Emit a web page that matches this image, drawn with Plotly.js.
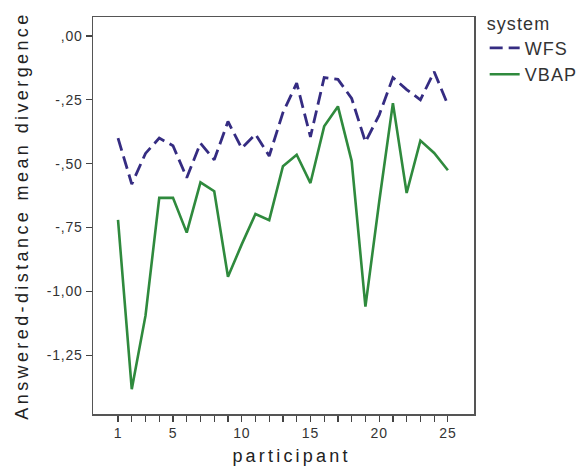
<!DOCTYPE html>
<html>
<head>
<meta charset="utf-8">
<script src="https://cdn.plot.ly/plotly-3.0.1.min.js"></script>
<style>
  html, body { margin: 0; padding: 0; background: #fff; }
  #chart { width: 587px; height: 466px; }
  .ytick text, .xtick text { letter-spacing: 0.8px; }
  .g-ytitle text { letter-spacing: 3.4px; }
  .g-xtitle text { letter-spacing: 3.2px; }
  .g-xtitle { transform: translate(8px, 0px); }
  .legendtext, .legendtitletext { letter-spacing: 1.1px; }
</style>
</head>
<body>
<div id="chart"></div>
<script>
const participants = [1,2,3,4,5,6,7,8,9,10,11,12,13,14,15,16,17,18,19,20,21,22,23,24,25];
const wfs  = [-0.40,-0.58,-0.46,-0.40,-0.43,-0.555,-0.42,-0.485,-0.335,-0.44,-0.385,-0.47,-0.30,-0.185,-0.395,-0.163,-0.17,-0.245,-0.415,-0.31,-0.163,-0.21,-0.25,-0.14,-0.27];
const vbap = [-0.72,-1.383,-1.095,-0.634,-0.634,-0.77,-0.573,-0.608,-0.943,-0.816,-0.697,-0.721,-0.51,-0.465,-0.576,-0.354,-0.276,-0.49,-1.06,-0.65,-0.263,-0.615,-0.41,-0.458,-0.526];
const xTickLabels = {1:'1',5:'5',10:'10',15:'15',20:'20',25:'25'};
const yTickVals = [0,-0.25,-0.5,-0.75,-1,-1.25];
const yTickText = [',00','-,25','-,50','-,75','-1,00','-1,25'];

const traces = [
  {x: participants, y: wfs, name: 'WFS', type: 'scatter', mode: 'lines',
   line: {color: '#352c82', width: 2.8, dash: '13px,6px'}},
  {x: participants, y: vbap, name: 'VBAP', type: 'scatter', mode: 'lines',
   line: {color: '#2f8a3d', width: 2.6}}
];

const layout = {
  width: 587, height: 466,
  margin: {l: 93, r: 113, t: 17, b: 52, autoexpand: false},
  paper_bgcolor: '#fff', plot_bgcolor: '#fff',
  font: {family: '"Liberation Sans", Arial, sans-serif', color: '#333'},
  showlegend: true,
  legend: {
    x: 1.028, xanchor: 'left', y: 1.027, yanchor: 'top',
    title: {text: 'system', font: {size: 18, color: '#333'}},
    font: {size: 18, color: '#333'},
    itemwidth: 30, tracegroupgap: 0,
    bgcolor: 'rgba(0,0,0,0)', borderwidth: 0
  },
  xaxis: {
    range: [-0.82, 26.9],
    tickmode: 'array',
    tickvals: participants,
    ticktext: participants.map(p => xTickLabels[p] || ''),
    ticks: 'outside', ticklen: 6, tickwidth: 1.2, tickcolor: '#444',
    tickfont: {size: 14, color: '#333'},
    showgrid: false, zeroline: false,
    showline: true, linecolor: '#555', linewidth: 1.5, mirror: true,
    title: {text: 'participant', font: {size: 18, color: '#222'}, standoff: 9}
  },
  yaxis: {
    range: [-1.48, 0.074],
    tickmode: 'array',
    tickvals: yTickVals,
    ticktext: yTickText,
    ticks: 'outside', ticklen: 6, tickwidth: 1.2, tickcolor: '#444',
    tickfont: {size: 14, color: '#333'},
    showgrid: false, zeroline: false,
    showline: true, linecolor: '#555', linewidth: 1.5, mirror: true,
    title: {text: 'Answered-distance mean divergence', font: {size: 18, color: '#222'}, standoff: 13}
  }
};

Plotly.newPlot('chart', traces, layout, {staticPlot: true, displayModeBar: false});
</script>
</body>
</html>
